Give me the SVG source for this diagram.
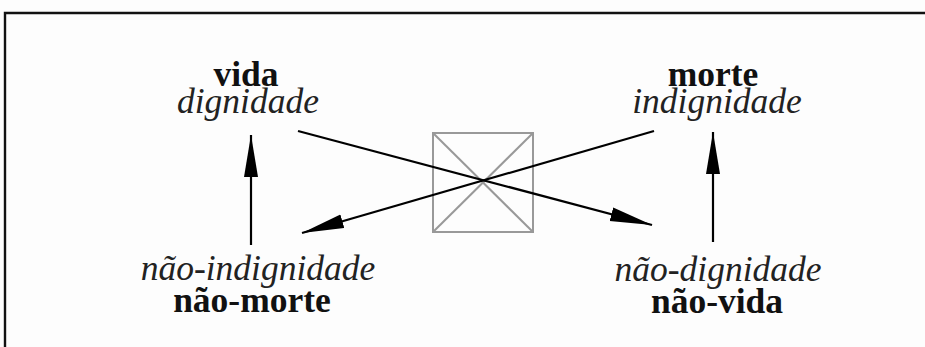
<svg xmlns="http://www.w3.org/2000/svg" width="925" height="347" viewBox="0 0 925 347">
  <style>
    .bold { font-family: "Liberation Serif", "Times New Roman", serif; font-weight: bold; font-size: 35.5px; fill: #111; text-anchor: middle; }
    .ital { font-family: "Liberation Serif", "Times New Roman", serif; font-style: italic; font-size: 35.5px; fill: #222; text-anchor: middle; }
    .edge { stroke: #000; stroke-width: 2.2; fill: none; marker-end: url(#head); }
    .sq { stroke: #999; stroke-width: 2; fill: none; }
  </style>
  <defs>
    <marker id="head" viewBox="0 0 42 16" refX="42" refY="8" markerWidth="42" markerHeight="16" markerUnits="userSpaceOnUse" orient="auto">
      <path d="M0,1 L42,8 L0,15 Z" fill="#000"/>
    </marker>
  </defs>
  <rect width="925" height="347" fill="#fdfdfd"/>
  <!-- frame: top and left rules only -->
  <path d="M5,347 L5,13 L925,13" stroke="#111" stroke-width="2.4" fill="none"/>

  <!-- central square with diagonals -->
  <g id="square">
    <rect class="sq" x="433" y="133" width="100" height="99"/>
    <line class="sq" x1="433" y1="133" x2="533" y2="232"/>
    <line class="sq" x1="533" y1="133" x2="433" y2="232"/>
  </g>

  <g id="connectors">
    <line class="edge" x1="251" y1="245" x2="251" y2="135"/>
    <line class="edge" x1="713" y1="242" x2="713" y2="132"/>
    <line class="edge" x1="298" y1="131" x2="652" y2="225"/>
    <line class="edge" x1="654" y1="131" x2="302" y2="233"/>
  </g>

  <g id="vida">
    <text class="bold" x="246" y="86">vida</text>
    <text class="ital" x="248" y="113">dignidade</text>
  </g>
  <g id="morte">
    <text class="bold" x="713" y="86">morte</text>
    <text class="ital" x="717" y="113">indignidade</text>
  </g>
  <g id="nao-morte">
    <text class="ital" x="258" y="280">não-indignidade</text>
    <text class="bold" x="252" y="312">não-morte</text>
  </g>
  <g id="nao-vida">
    <text class="ital" x="718" y="281">não-dignidade</text>
    <text class="bold" x="717" y="313">não-vida</text>
  </g>
</svg>
